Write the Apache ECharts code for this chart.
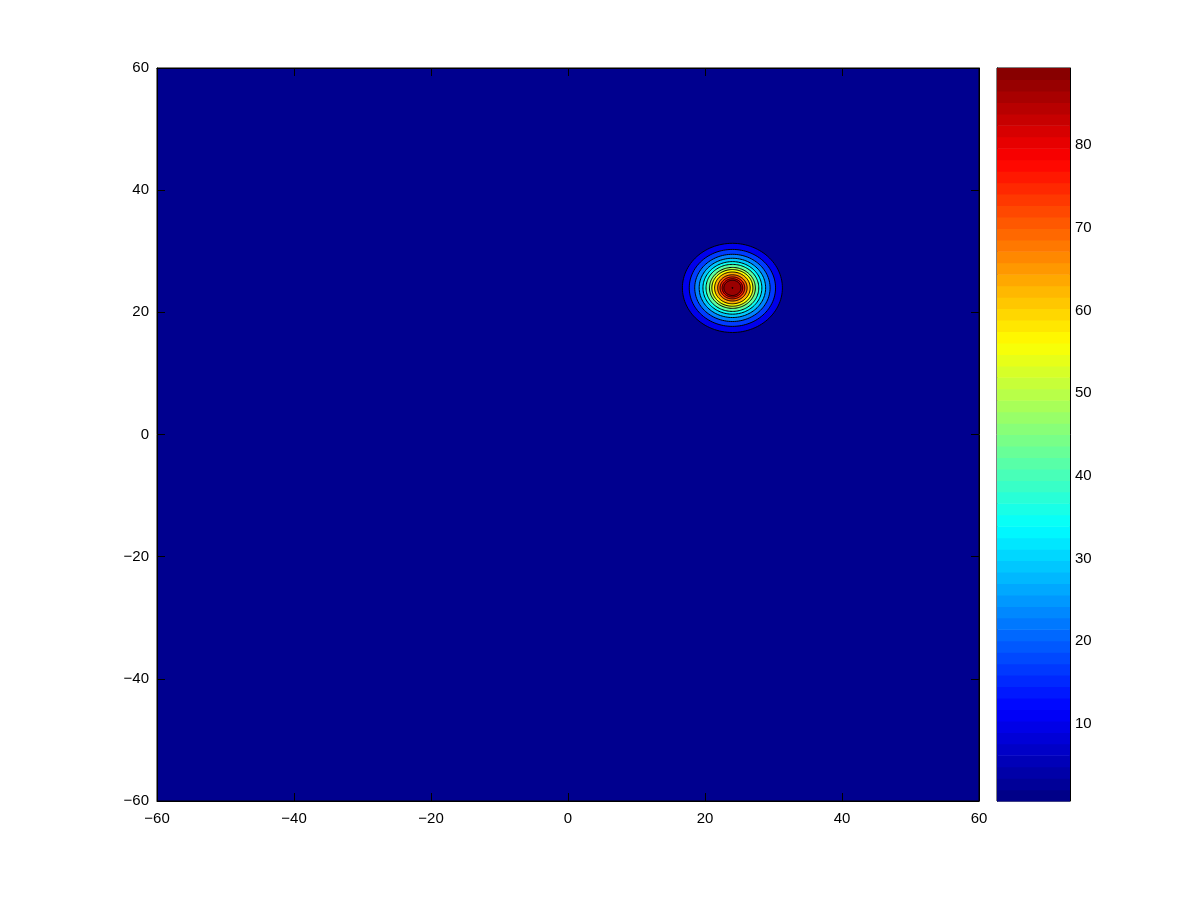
<!DOCTYPE html>
<html>
<head>
<meta charset="utf-8">
<script src="https://cdn.jsdelivr.net/npm/echarts@6/dist/echarts.min.js"></script>
<style>
html,body{margin:0;padding:0;background:#fff;}
#chart{width:1200px;height:901px;}
</style>
</head>
<body>
<div id="chart"></div>
<script>
// ---- data ----
const xRange = [-60, 60];
const yRange = [-60, 60];
const axisStep = 20;
const blobCenter = [24, 24];
// filled contour levels (outer -> inner) and their radii (data units)
const contourLevels = [10, 17, 23, 29, 35, 42, 49, 56, 63, 70, 76, 82, 87, 89];
const contourRadii  = [7.3, 6.3, 5.5, 4.85, 4.3, 3.85, 3.35, 3.0, 2.6, 2.15, 1.8, 1.5, 1.25, 0.08];
const colorbarRange = [0.7, 89.3];
const colorbarTicks = [10, 20, 30, 40, 50, 60, 70, 80];
const colorbarBandCount = 64;

const jetStops = ['#000080','#0000FF','#0080FF','#00FFFF','#80FF80','#FFFF00','#FF8000','#FF0000','#800000'];
const font = 'Liberation Sans, Arial, Helvetica, sans-serif';
const minusFmt = v => String(v).replace('-', '\u2212');

const ringData = contourLevels.map((l, i) => [blobCenter[0], blobCenter[1], contourRadii[i], l]);
const bandStep = (colorbarRange[1] - colorbarRange[0]) / colorbarBandCount;
const bandData = [];
for (let i = 0; i < colorbarBandCount; i++) {
  const lo = colorbarRange[0] + i * bandStep;
  bandData.push([lo, lo + bandStep, lo + bandStep / 2]);
}

function renderRing(params, api) {
  const c = api.coord([api.value(0), api.value(1)]);
  const s = api.size([api.value(2), api.value(2)]);
  const pts = [];
  const n = 120;
  for (let k = 0; k < n; k++) {
    const a = (k / n) * Math.PI * 2;
    pts.push([c[0] + s[0] * Math.cos(a), c[1] + s[1] * Math.sin(a)]);
  }
  return {
    type: 'polygon',
    shape: { points: pts },
    style: { fill: api.visual('color'), stroke: '#000', lineWidth: 1 }
  };
}

function renderBand(params, api) {
  const p1 = api.coord([0, api.value(1)]);
  const p2 = api.coord([1, api.value(0)]);
  return {
    type: 'rect',
    shape: { x: p1[0], y: p1[1], width: p2[0] - p1[0], height: p2[1] - p1[1] + 0.6 },
    style: { fill: api.visual('color') }
  };
}

const labelStyle = { color: '#000', fontSize: 15, fontFamily: font };
const mainAxisBase = (min, max) => ({
  type: 'value', min: min, max: max, interval: axisStep,
  splitLine: { show: false },
  axisLine: { show: true, onZero: false, lineStyle: { color: '#000', width: 1 } },
  axisTick: { show: true, inside: true, length: 8, lineStyle: { color: '#000' } }
});

const chart = echarts.init(document.getElementById('chart'), null, { renderer: 'canvas' });
chart.setOption({
  animation: false,
  backgroundColor: '#fff',
  grid: [
    { left: 157, top: 68, width: 822, height: 733, show: true, backgroundColor: '#00008F', borderColor: '#000', borderWidth: 1 },
    { left: 997, top: 68, width: 73, height: 733, show: true, backgroundColor: 'transparent', borderColor: '#000', borderWidth: 1 }
  ],
  xAxis: [
    Object.assign(mainAxisBase(xRange[0], xRange[1]), { gridIndex: 0, position: 'bottom',
      axisLabel: Object.assign({ margin: 10, formatter: minusFmt }, labelStyle) }),
    Object.assign(mainAxisBase(xRange[0], xRange[1]), { gridIndex: 0, position: 'top', axisLabel: { show: false } }),
    { type: 'value', gridIndex: 1, min: 0, max: 1, show: false }
  ],
  yAxis: [
    Object.assign(mainAxisBase(yRange[0], yRange[1]), { gridIndex: 0, position: 'left',
      axisLabel: Object.assign({ margin: 8, formatter: minusFmt }, labelStyle) }),
    Object.assign(mainAxisBase(yRange[0], yRange[1]), { gridIndex: 0, position: 'right', axisLabel: { show: false } }),
    { type: 'value', gridIndex: 1, min: colorbarRange[0], max: colorbarRange[1], position: 'left',
      splitLine: { show: false },
      axisLine: { show: true, lineStyle: { color: '#000' } },
      axisTick: { show: true, inside: true, length: 7, customValues: colorbarTicks, lineStyle: { color: '#000' } },
      axisLabel: { show: false } },
    { type: 'value', gridIndex: 1, min: colorbarRange[0], max: colorbarRange[1], position: 'right',
      splitLine: { show: false },
      axisLine: { show: true, lineStyle: { color: '#000' } },
      axisTick: { show: true, inside: true, length: 7, customValues: colorbarTicks, lineStyle: { color: '#000' } },
      axisLabel: Object.assign({ margin: 5, customValues: colorbarTicks }, labelStyle) }
  ],
  visualMap: [
    { type: 'continuous', show: false, seriesIndex: 0, dimension: 3,
      min: colorbarRange[0], max: colorbarRange[1], inRange: { color: jetStops } },
    { type: 'continuous', show: false, seriesIndex: 1, dimension: 2,
      min: colorbarRange[0], max: colorbarRange[1], inRange: { color: jetStops } }
  ],
  series: [
    { type: 'custom', xAxisIndex: 0, yAxisIndex: 0, renderItem: renderRing, data: ringData,
      encode: { x: 0, y: 1 }, clip: true, silent: true },
    { type: 'custom', xAxisIndex: 2, yAxisIndex: 2, renderItem: renderBand, data: bandData,
      encode: { y: [0, 1] }, silent: true }
  ]
});
</script>
</body>
</html>
